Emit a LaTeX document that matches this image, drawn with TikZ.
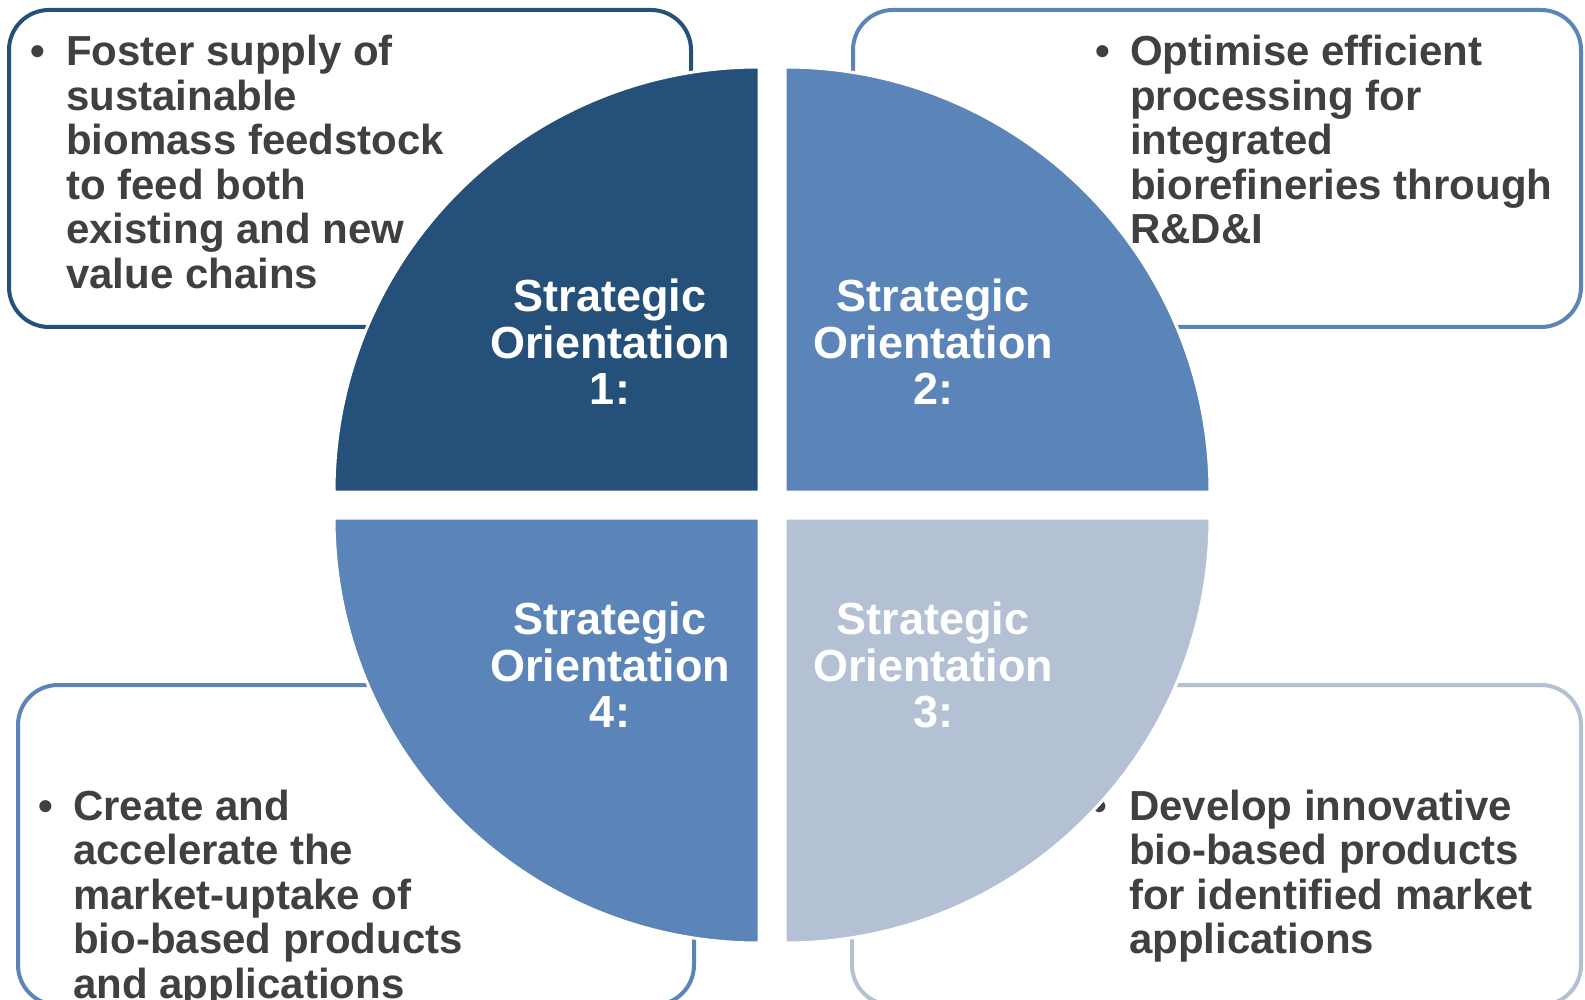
\documentclass[tikz,border=0pt]{standalone}
\usepackage{fontspec}
\setmainfont{Liberation Sans}
\usetikzlibrary{positioning}

\definecolor{sodark}{HTML}{25507A}
\definecolor{somid}{HTML}{5B84B8}
\definecolor{solight}{HTML}{B4C1D4}
\definecolor{sotext}{HTML}{404040}

\begin{document}
\begin{tikzpicture}[x=1pt,y=-1pt,
  aimbox/.style={rounded corners=40pt,line width=4pt,fill=white},
  quarter/.style={draw=white,line width=3pt},
  aimline/.style={anchor=base west,inner sep=0pt,text=sotext,font=\fontsize{42}{44}\selectfont\bfseries},
  solabel/.style={align=center,inner sep=0pt,text=white,font=\fontsize{45}{46.5}\selectfont\bfseries}]

\useasboundingbox (0,0) rectangle (1585,1000);
\clip (0,0) rectangle (1585,1000);

% boxes behind the circle
\draw[aimbox,draw=sodark] (9,10) rectangle (691,327);
\draw[aimbox,draw=somid] (853,10) rectangle (1581,327);
\draw[aimbox,draw=somid] (18,685) rectangle (694,1005);
\draw[aimbox,draw=solight] (852,685) rectangle (1581,1005);

% box texts
\def\aimone{0/{Foster supply of},1/{sustainable},2/{biomass feedstock},3/{to feed both},4/{existing and new},5/{value chains}}
\node[aimline] (b1) at (30,66) {\textbullet};
\foreach \i / \element in \aimone
  \node[aimline] (a1\i) at (66,66+44.5*\i) {\element};

\def\aimtwo{0/{Optimise efficient},1/{processing for},2/{integrated},3/{biorefineries through},4/{R\&D\&I}}
\node[aimline] (b2) at (1095,66) {\textbullet};
\foreach \i / \element in \aimtwo
  \node[aimline] (a2\i) at (1130,66+44.5*\i) {\element};

\def\aimthree{0/{Develop innovative},1/{bio-based products},2/{for identified market},3/{applications}}
\node[aimline] (b3) at (1092,820) {\textbullet};
\foreach \i / \element in \aimthree
  \node[aimline] (a3\i) at (1129,820+44.5*\i) {\element};

\def\aimfour{0/{Create and},1/{accelerate the},2/{market-uptake of},3/{bio-based products},4/{and applications}}
\node[aimline] (b4) at (38,820) {\textbullet};
\foreach \i / \element in \aimfour
  \node[aimline] (a4\i) at (73,820+44.5*\i) {\element};

% the four quarters
\filldraw[quarter,fill=sodark] (759,492) -- (334,492) arc[start angle=180,end angle=270,radius=425] -- cycle;
\filldraw[quarter,fill=somid] (785,492) -- (785,67) arc[start angle=270,end angle=360,radius=425] -- cycle;
\filldraw[quarter,fill=solight] (785,518) -- (1210,518) arc[start angle=0,end angle=90,radius=425] -- cycle;
\filldraw[quarter,fill=somid] (759,518) -- (759,943) arc[start angle=90,end angle=180,radius=425] -- cycle;

\node[solabel] (so1) at (610,342) {Strategic\\Orientation\\1:};
\node[solabel] (so2) at (933,342) {Strategic\\Orientation\\2:};
\node[solabel] (so3) at (933,665) {Strategic\\Orientation\\3:};
\node[solabel] (so4) at (610,665) {Strategic\\Orientation\\4:};

\end{tikzpicture}
\end{document}
